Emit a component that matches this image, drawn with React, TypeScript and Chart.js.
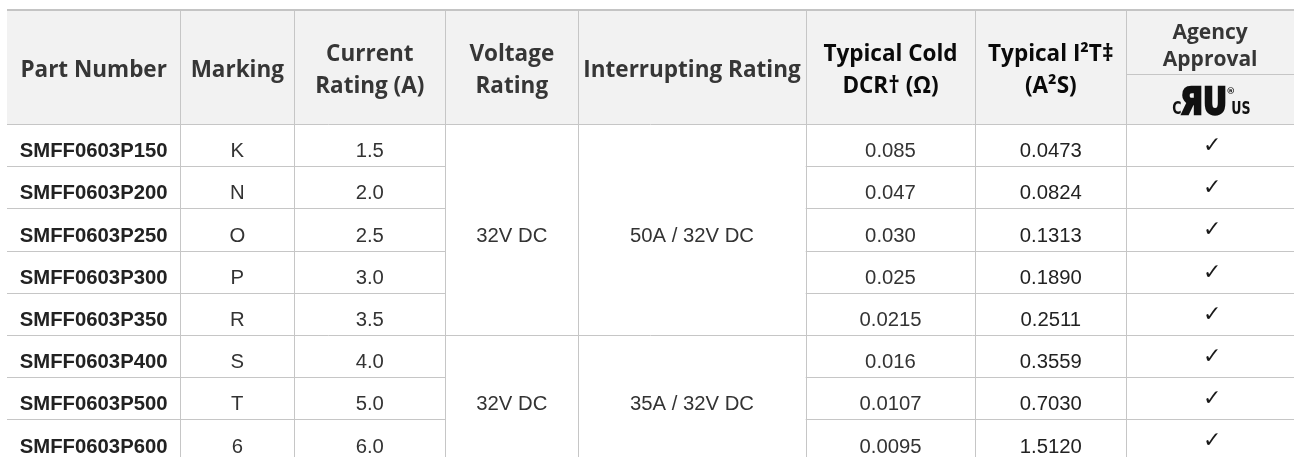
import React, { useEffect, useRef } from "react";
import { Chart, registerables } from "chart.js";

Chart.register(...registerables);

// ---------- data ----------
const partNumbers = [
  "SMFF0603P150", "SMFF0603P200", "SMFF0603P250", "SMFF0603P300",
  "SMFF0603P350", "SMFF0603P400", "SMFF0603P500", "SMFF0603P600",
];
const markings = ["K", "N", "O", "P", "R", "S", "T", "6"];
const currentRatings = ["1.5", "2.0", "2.5", "3.0", "3.5", "4.0", "5.0", "6.0"];
const voltageRatings = ["32V DC", "32V DC"];
const interruptingRatings = ["50A / 32V DC", "35A / 32V DC"];
const groupRowCounts = [5, 3];
const coldDCR = ["0.085", "0.047", "0.030", "0.025", "0.0215", "0.016", "0.0107", "0.0095"];
const i2t = ["0.0473", "0.0824", "0.1313", "0.1890", "0.2511", "0.3559", "0.7030", "1.5120"];
const agencyApproved = [true, true, true, true, true, true, true, true];
const headerLabels = [
  ["Part Number"],
  ["Marking"],
  ["Current", "Rating (A)"],
  ["Voltage", "Rating"],
  ["Interrupting Rating"],
  ["Typical Cold", "DCR\u2020 (\u03A9)"],
  ["Typical I\u00B2T\u2021", "(A\u00B2S)"],
  ["Agency", "Approval"],
];

// ---------- layout (scale units) ----------
const COL_EDGES = [0, 173.3, 287.3, 438.3, 571.3, 798.7, 968.3, 1119.3, 1287];
const HEADER_TOP = -2.725;
const AGENCY_SPLIT = -1.185;
const VISIBLE_ROWS = 7.891;

const LINE = "#c6c6c6";
const HEADER_BG = "#f2f2f2";

const tablePlugin = {
  id: "specTable",
  afterDraw(chart: any) {
    const ctx = chart.ctx as CanvasRenderingContext2D;
    const xs = chart.scales.x;
    const ys = chart.scales.y;
    const px = (v: number) => xs.getPixelForValue(v);
    const py = (v: number) => ys.getPixelForValue(v);
    const nCols = COL_EDGES.length - 1;
    const nRows = partNumbers.length;
    const left = px(COL_EDGES[0]);
    const right = px(COL_EDGES[nCols]);
    const top = py(HEADER_TOP);
    const headBottom = Math.round(py(0));
    const bottom = py(VISIBLE_ROWS);

    ctx.save();
    ctx.fillStyle = HEADER_BG;
    ctx.fillRect(left, top, right - left, headBottom - top);
    ctx.fillStyle = "#c4c4c4";
    ctx.fillRect(left, Math.round(top), right - left, 2);

    ctx.strokeStyle = LINE;
    ctx.lineWidth = 1;
    const hline = (y: number, x0: number, x1: number) => {
      const yy = Math.round(y) + 0.5;
      ctx.beginPath();
      ctx.moveTo(x0, yy);
      ctx.lineTo(x1, yy);
      ctx.stroke();
    };
    const vline = (x: number, y0: number, y1: number) => {
      const xx = Math.round(x) + 0.5;
      ctx.beginPath();
      ctx.moveTo(xx, y0);
      ctx.lineTo(xx, y1);
      ctx.stroke();
    };
    const groupStarts: number[] = [];
    let acc = 0;
    groupRowCounts.forEach((c) => {
      groupStarts.push(acc);
      acc += c;
    });
    for (let r = 0; r <= nRows; r++) {
      const isGroupEdge = r === 0 || groupStarts.includes(r) || r === acc;
      if (isGroupEdge) {
        hline(py(r), left, right);
      } else {
        hline(py(r), left, px(COL_EDGES[3]));
        hline(py(r), px(COL_EDGES[5]), right);
      }
    }
    for (let i = 1; i < nCols; i++) {
      vline(px(COL_EDGES[i]), Math.round(top) + 2, bottom);
    }
    hline(py(AGENCY_SPLIT), px(COL_EDGES[7]), right);

    // header text
    ctx.textAlign = "center";
    ctx.textBaseline = "alphabetic";
    const headCenter = (py(HEADER_TOP) + py(0)) / 2 + 2;
    headerLabels.forEach((lines, i) => {
      const cx = (px(COL_EDGES[i]) + px(COL_EDGES[i + 1])) / 2;
      const strong = i === 5 || i === 6;
      if (i === 7) {
        ctx.font = "700 21px 'Open Sans'";
        ctx.fillStyle = "#363636";
        const c = (py(HEADER_TOP) + py(AGENCY_SPLIT)) / 2 + 3;
        const lh = 27;
        lines.forEach((t, k) => {
          ctx.fillText(t, cx, c + 8 + (k - (lines.length - 1) / 2) * lh);
        });
        return;
      }
      ctx.font = "700 22.5px 'Open Sans'";
      ctx.fillStyle = strong ? "#0a0a0a" : "#363636";
      const lh = 31.5;
      lines.forEach((t, k) => {
        ctx.fillText(t, cx, headCenter + 8.5 + (k - (lines.length - 1) / 2) * lh);
      });
    });

    // UL recognized component logo
    {
      const cx = (px(COL_EDGES[7]) + px(COL_EDGES[8])) / 2;
      const cy = (py(AGENCY_SPLIT) + py(0)) / 2;
      ctx.fillStyle = "#111111";
      ctx.strokeStyle = "#111111";
      ctx.textAlign = "left";
      ctx.save();
      ctx.translate(cx - 38, cy + 15);
      ctx.scale(0.7, 1);
      ctx.font = "bold 18px 'DejaVu Sans'";
      ctx.fillText("C", 0, 0);
      ctx.restore();
      ctx.save();
      ctx.translate(cx - 30, cy + 15);
      ctx.scale(0.78, 1);
      ctx.font = "bold 38px 'DejaVu Sans'";
      ctx.lineWidth = 2.5;
      ctx.lineJoin = "miter";
      ctx.strokeText("\u042FU", 0, 0);
      ctx.fillText("\u042FU", 0, 0);
      ctx.restore();
      ctx.font = "bold 9px 'DejaVu Sans'";
      ctx.fillText("\u00AE", cx + 16, cy - 5);
      ctx.save();
      ctx.translate(cx + 21, cy + 15);
      ctx.scale(0.7, 1);
      ctx.font = "bold 18px 'DejaVu Sans'";
      ctx.fillText("US", 0, 0);
      ctx.restore();
      ctx.textAlign = "center";
    }

    // body
    const colCenter = (i: number) => (px(COL_EDGES[i]) + px(COL_EDGES[i + 1])) / 2;
    const rowBase = (r0: number, r1: number) => (py(r0) + py(r1)) / 2 + 12.2;
    for (let r = 0; r < nRows; r++) {
      const b = rowBase(r, r + 1);
      ctx.font = "bold 20.3px 'Liberation Sans'";
      ctx.fillStyle = "#222222";
      ctx.fillText(partNumbers[r], colCenter(0), b);
      ctx.font = "20.3px 'Liberation Sans'";
      ctx.fillStyle = "#333333";
      ctx.fillText(markings[r], colCenter(1), b);
      ctx.fillText(currentRatings[r], colCenter(2), b);
      ctx.fillText(coldDCR[r], colCenter(5), b);
      ctx.fillStyle = "#222222";
      ctx.fillText(i2t[r], colCenter(6), b);
      if (agencyApproved[r]) {
        ctx.font = "22px 'DejaVu Sans'";
        ctx.fillStyle = "#1a1a1a";
        ctx.fillText("\u2713", colCenter(7) + 2, (py(r) + py(r + 1)) / 2 + 7);
      }
    }
    groupRowCounts.forEach((count, g) => {
      const s = groupStarts[g];
      const b = rowBase(s, s + count);
      ctx.font = "20.3px 'Liberation Sans'";
      ctx.fillStyle = "#333333";
      ctx.fillText(voltageRatings[g], colCenter(3), b);
      ctx.fillText(interruptingRatings[g], colCenter(4), b);
    });
    ctx.restore();
  },
};

export default function App() {
  const ref = useRef<HTMLCanvasElement | null>(null);
  useEffect(() => {
    if (!ref.current) return;
    const chart = new Chart(ref.current, {
      type: "scatter",
      data: { datasets: [] },
      options: {
        responsive: true,
        maintainAspectRatio: false,
        animation: false,
        events: [],
        layout: { padding: { left: 7, top: 9, right: 0, bottom: 0 } },
        plugins: { legend: { display: false }, tooltip: { enabled: false } },
        scales: {
          x: { type: "linear", display: false, min: COL_EDGES[0], max: COL_EDGES[COL_EDGES.length - 1] },
          y: { type: "linear", display: false, reverse: true, min: HEADER_TOP, max: VISIBLE_ROWS },
        },
      },
      plugins: [tablePlugin],
    } as any);
    return () => chart.destroy();
  }, []);
  return (
    <div style={{ position: "fixed", left: 0, top: 0, width: "100vw", height: "100vh", background: "#fff" }}>
      <canvas ref={ref} />
    </div>
  );
}
